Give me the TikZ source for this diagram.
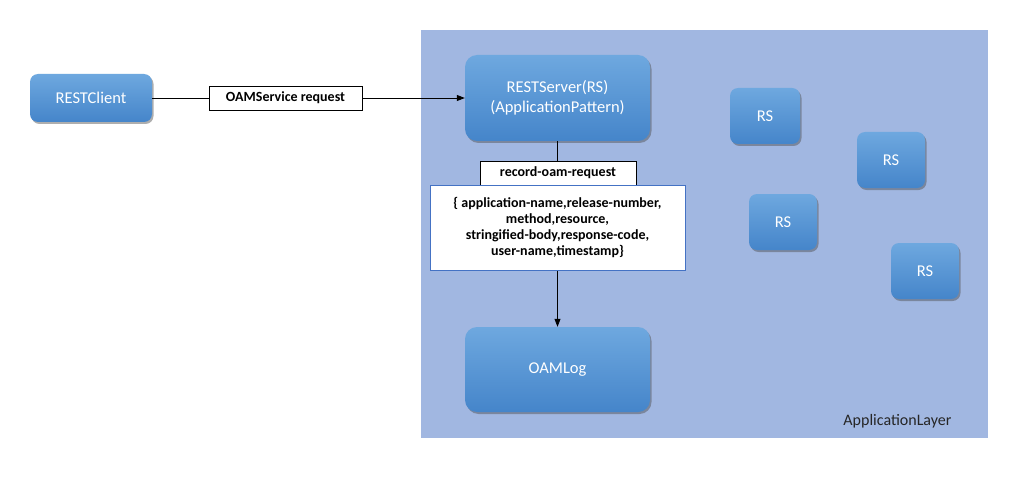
\documentclass[tikz,border=0pt]{standalone}
\usepackage{fontspec}
\setmainfont{Carlito}
\usetikzlibrary{shadows,arrows.meta}
\definecolor{layerbg}{HTML}{A1B7E1}
\definecolor{boxtop}{HTML}{6EA8DF}
\definecolor{boxbot}{HTML}{4585CA}
\definecolor{frameblue}{HTML}{4472C4}
\tikzset{
  bluebox/.style={rectangle, rounded corners=#1, top color=boxtop, bottom color=boxbot,
    draw=none, text=white, font=\fontsize{16.5}{20}\selectfont, align=center,
    inner sep=0pt, drop shadow={shadow xshift=1.5pt, shadow yshift=-2pt, opacity=0.45, fill=black!70}},
  bluebox/.default=9pt,
  lblbox/.style={rectangle, draw=black, fill=white, line width=0.8pt, inner sep=0pt,
    font=\fontsize{14}{16.3}\selectfont\bfseries, align=center},
  conn/.style={line width=0.8pt, draw=black},
  tip/.style={-{Triangle[length=8pt,width=6pt]}}
}
\begin{document}
\begin{tikzpicture}[x=1pt,y=-1pt]
\useasboundingbox (0,0) rectangle (1035,481);
\fill[white] (0,0) rectangle (1035,481);
% application layer
\node[rectangle, fill=layerbg, minimum width=567pt, minimum height=408pt, inner sep=0pt,anchor=north west] (layer) at (421,30) {};
\node[anchor=base east, font=\fontsize{16}{20}\selectfont, text=black!85] (layerlbl) at (955,425) {ApplicationLayer};
% nodes
\node[bluebox=8pt, minimum width=122pt, minimum height=48pt] (client) at (91,98) {RESTClient};
\node[bluebox=12pt, minimum width=185pt, minimum height=86pt] (server) at (557.5,98) {RESTServer(RS)\\(ApplicationPattern)};
\node[bluebox=12pt, minimum width=185pt, minimum height=85pt] (oamlog) at (557.5,369.5) {OAMLog};
\node[bluebox=8pt, minimum width=70pt, minimum height=56pt] (rs1) at (765,116) {RS};
\node[bluebox=8pt, minimum width=68pt, minimum height=56pt] (rs2) at (891,160) {RS};
\node[bluebox=8pt, minimum width=68pt, minimum height=56pt] (rs3) at (783,222) {RS};
\node[bluebox=8pt, minimum width=68pt, minimum height=56pt] (rs4) at (925,271) {RS};
% connectors
\draw[conn, tip] (client.east) -- (server.west);
\node[lblbox, minimum width=153pt, minimum height=24pt] (reqlbl) at (285.5,98) {OAMService request};
\draw[conn, tip] (server.south) -- (oamlog.north);
\node[lblbox, minimum width=156pt, minimum height=24pt] (reclbl) at (558,173) {record-oam-request};
\node[lblbox, draw=frameblue, minimum width=255pt, minimum height=85pt] (params) at (557.5,227.5)
  {\{ application-name,release-number,\\ method,resource,\\ stringified-body,response-code,\\ user-name,timestamp\}};
\end{tikzpicture}
\end{document}
